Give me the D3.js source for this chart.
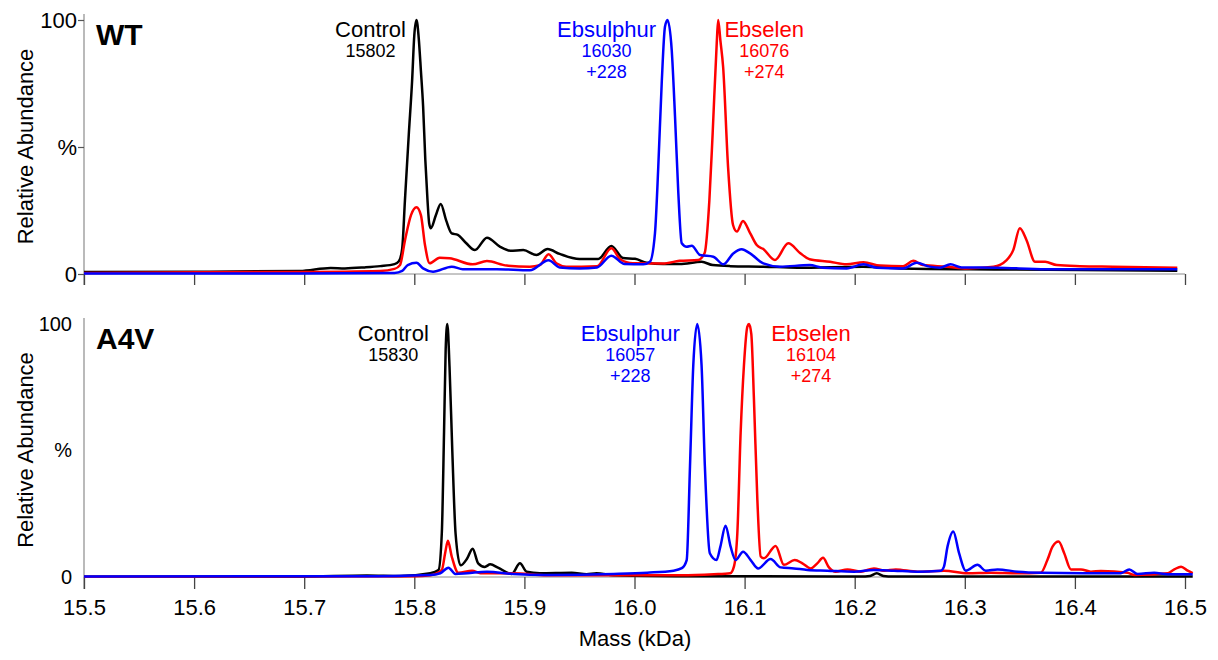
<!DOCTYPE html>
<html>
<head>
<meta charset="utf-8">
<script src="https://cdn.jsdelivr.net/npm/d3@7"></script>
<style>
  body { margin: 0; background: #fff; }
  svg { display: block; }
  text { font-family: Arial, "Liberation Sans", sans-serif; }
</style>
</head>
<body>
<svg id="chart" width="1218" height="660"></svg>
<script>
// ---- data: deconvoluted mass spectra, [mass (kDa), relative abundance (%)] ----
const massTicks = [15.5, 15.6, 15.7, 15.8, 15.9, 16.0, 16.1, 16.2, 16.3, 16.4, 16.5];
const pctTicks = [0, 50, 100];
const pctTickLabels = ["0", "%", "100"];
const panelNames = ["WT", "A4V"];
const seriesNames = ["Control", "Ebsulphur", "Ebselen"];
const wtPeakMasses = [15802, 16030, 16076];
const a4vPeakMasses = [15830, 16057, 16104];
const adductShifts = ["", "+228", "+274"];

const wtControl = [
  [15.500,0.8],[15.600,0.9],[15.696,1.2],[15.724,2.4],[15.737,2.2],[15.755,2.6],[15.769,3.1],
  [15.782,3.9],[15.786,5.0],[15.789,10],[15.7915,29],[15.795,55],[15.798,76],[15.800,94],
  [15.802,100],[15.804,93],[15.806,80],[15.808,66],[15.810,45],[15.812,29],[15.8135,20],
  [15.815,18],[15.8195,23],[15.824,27.6],[15.829,21],[15.834,16],[15.8395,15.4],[15.847,12.2],
  [15.855,9.4],[15.866,14.3],[15.878,10.7],[15.887,9.2],[15.899,9.4],[15.911,7.5],[15.921,9.8],
  [15.932,7.9],[15.950,5.9],[15.967,5.9],[15.979,11],[15.9895,6.3],[16.0005,6.0],[16.011,4.4],
  [16.026,3.9],[16.041,3.9],[16.061,4.8],[16.071,3.5],[16.087,3.1],[16.117,2.9],[16.148,2.5],
  [16.2075,2.9],[16.241,2.2],[16.332,1.8],[16.493,1.3]
];
const wtEbsulphur = [
  [15.500,0.2],[15.696,0.2],[15.782,0.4],[15.789,1.2],[15.794,3.5],[15.802,4.4],[15.808,2.2],
  [15.817,0.9],[15.834,2.9],[15.844,1.9],[15.875,1.9],[15.905,1.5],[15.922,5.4],[15.932,2.6],
  [15.950,2.2],[15.966,2.6],[15.979,7.2],[15.991,3.9],[16.008,3.8],[16.014,4.8],[16.0186,16.1],
  [16.0216,42.2],[16.0247,75],[16.0277,97.4],[16.030,100],[16.0338,88.2],[16.0368,62],
  [16.0398,31.9],[16.0429,12.1],[16.0474,10.7],[16.052,11.1],[16.0595,7.5],[16.0716,6.8],
  [16.0807,3.8],[16.0897,8.1],[16.0974,9.7],[16.105,8.1],[16.117,4.2],[16.132,2.9],[16.159,3.5],
  [16.171,2.5],[16.1927,2.2],[16.208,3.8],[16.220,2.5],[16.2439,2.2],[16.2563,4.4],[16.268,2.9],
  [16.2775,2.5],[16.287,3.8],[16.297,2.6],[16.329,2.5],[16.374,1.9],[16.493,1.9]
];
const wtEbselen = [
  [15.500,0.4],[15.605,0.7],[15.696,0.8],[15.769,1.2],[15.782,2.0],[15.787,3.5],[15.7916,13.4],
  [15.797,23.2],[15.802,26.3],[15.806,23.2],[15.8097,11.4],[15.814,4.2],[15.823,6.4],[15.832,6.2],
  [15.853,3.8],[15.866,5.1],[15.884,3.3],[15.905,2.9],[15.914,3.5],[15.922,7.8],[15.929,4.2],
  [15.938,2.9],[15.966,3.1],[15.979,10.1],[15.987,5.8],[15.9986,4.2],[16.026,4.1],[16.041,5.2],
  [16.0577,5.5],[16.0637,8.3],[16.068,29],[16.071,55.5],[16.0747,91],[16.076,100],[16.078,92],
  [16.0805,81.5],[16.085,42],[16.0895,19.3],[16.093,16.7],[16.0985,20.9],[16.105,16.1],
  [16.111,11.4],[16.117,9.8],[16.1276,5.5],[16.1397,12.1],[16.1503,8.3],[16.159,5.8],
  [16.1776,4.8],[16.1927,3.8],[16.208,4.6],[16.223,3.3],[16.244,3.1],[16.2532,5.2],[16.262,3.5],
  [16.2836,2.9],[16.3017,2.2],[16.326,2.9],[16.338,5.5],[16.344,9.4],[16.350,18],[16.356,13.4],
  [16.3638,4.8],[16.373,4.8],[16.3835,3.5],[16.4046,3.1],[16.4346,2.9],[16.493,2.5]
];

const a4vControl = [
  [15.500,0.1],[15.696,0.1],[15.757,0.6],[15.787,0.4],[15.8145,1.5],[15.822,2.8],[15.825,17.5],
  [15.827,57],[15.8285,90],[15.830,100],[15.832,83],[15.8345,50],[15.8375,17.1],[15.842,4.6],
  [15.848,7.3],[15.853,11.2],[15.858,5.4],[15.864,4.0],[15.869,5.0],[15.876,3.7],[15.8885,1.2],
  [15.896,5.4],[15.902,2.1],[15.914,1.5],[15.943,1.7],[15.9565,1.1],[15.9655,1.5],[15.981,0.7],
  [16.060,0.3],[16.205,0.2],[16.214,0.4],[16.220,1.5],[16.226,0.4],[16.235,0.2],[16.507,0.2]
];
const a4vEbsulphur = [
  [15.500,0.2],[15.750,0.3],[15.8145,0.8],[15.8236,1.5],[15.831,3.7],[15.8373,1.2],[15.848,1.5],
  [15.866,2.1],[15.890,1.2],[15.9205,0.8],[15.981,1.2],[16.0115,1.7],[16.0355,2.5],[16.043,3.5],
  [16.0474,6.7],[16.0504,43.8],[16.0534,83.8],[16.057,100],[16.0609,83.8],[16.0639,44],
  [16.0684,9.4],[16.0745,6.7],[16.078,12.0],[16.0827,20.3],[16.0873,12.0],[16.0918,6.7],
  [16.0986,10.0],[16.1055,6.7],[16.1123,3.4],[16.1236,7.1],[16.1327,3.8],[16.1448,3.4],
  [16.157,2.8],[16.175,2.5],[16.1994,2.1],[16.2175,2.8],[16.2357,2.5],[16.257,2.1],[16.2782,2.5],
  [16.281,4.0],[16.2843,12.0],[16.2895,18.0],[16.2948,9.4],[16.3009,2.5],[16.3115,4.8],
  [16.319,2.5],[16.3297,3.0],[16.348,2.1],[16.369,1.7],[16.4236,1.5],[16.4418,1.5],[16.4494,3.0],
  [16.457,1.2],[16.472,1.7],[16.484,1.1],[16.507,1.1]
];
const a4vEbselen = [
  [15.500,0.1],[15.800,0.3],[15.8145,0.7],[15.825,2.8],[15.828,9.4],[15.8305,14.3],[15.834,8.1],
  [15.840,1.7],[15.8525,2.5],[15.860,1.5],[15.890,1.5],[15.9205,0.7],[16.042,0.7],[16.072,1.1],
  [16.087,1.5],[16.0903,4.1],[16.0934,17.3],[16.0964,57],[16.0994,83.6],[16.1025,99],[16.104,100],
  [16.1061,96],[16.1085,70],[16.1116,30.4],[16.1146,8.1],[16.1175,7.4],[16.1282,12.3],
  [16.1357,4.8],[16.1455,6.7],[16.1525,5.4],[16.160,3.4],[16.166,5.4],[16.1712,7.6],[16.1766,3.8],
  [16.1827,2.1],[16.1934,3.0],[16.2055,2.1],[16.2175,3.4],[16.2266,2.5],[16.2373,3.0],[16.257,2.1],
  [16.2812,2.5],[16.3025,1.5],[16.3236,1.7],[16.348,1.5],[16.369,1.7],[16.375,6.7],[16.3797,12.0],
  [16.3852,14.0],[16.3903,9.4],[16.3964,3.0],[16.4055,3.0],[16.4145,2.1],[16.4236,2.4],
  [16.4479,1.7],[16.454,0.8],[16.4843,1.5],[16.4903,3.0],[16.4964,4.1],[16.5025,2.5],[16.507,1.5]
];

// ---- layout ----
const colors = ["#000000", "#0000ff", "#ff0000"];
const svg = d3.select("#chart");
const x = d3.scaleLinear().domain([15.5, 16.5]).range([84, 1185]);

const panels = [
  { name: panelNames[0], series: [wtControl, wtEbsulphur, wtEbselen], peaks: wtPeakMasses,
    y0: 274, y100: 20, yTickSize: 6, yTickPad: 1, yFont: 22, xTickSize: 11, showXLabels: false,
    labelDx: [-46, -61, 46], drawOrder: [0, 2, 1] },
  { name: panelNames[1], series: [a4vControl, a4vEbsulphur, a4vEbselen], peaks: a4vPeakMasses,
    y0: 577, y100: 324, yTickSize: 0, yTickPad: 12, yFont: 20, xTickSize: 12, showXLabels: true,
    labelDx: [-54, -67, 62], drawOrder: [0, 2, 1] }
];

panels.forEach(p => {
  const y = d3.scaleLinear().domain([0, 100]).range([p.y0, p.y100]);
  const g = svg.append("g");

  // axis lines
  g.append("line").attr("x1", 84).attr("x2", 84)
    .attr("y1", p.y100 - 6).attr("y2", p.y0 + p.xTickSize)
    .attr("stroke", "#8c8c8c").attr("stroke-width", 1.2);
  g.append("line").attr("x1", 84).attr("x2", x(16.5))
    .attr("y1", p.y0).attr("y2", p.y0)
    .attr("stroke", "#8c8c8c").attr("stroke-width", 1);

  // x axis ticks
  const xAxis = d3.axisBottom(x).tickValues(massTicks)
    .tickSize(p.xTickSize).tickPadding(10)
    .tickFormat(p.showXLabels ? d3.format(".1f") : () => "");
  const gx = g.append("g").attr("transform", `translate(0,${p.y0})`).call(xAxis);
  gx.select(".domain").remove();
  gx.selectAll(".tick line").attr("stroke", "#444").attr("stroke-width", 1.3);
  gx.selectAll(".tick text").attr("fill", "#000").style("font-size", "22px")
    .style("font-family", "Arial, 'Liberation Sans', sans-serif");

  // y axis ticks
  const yAxis = d3.axisLeft(y).tickValues(pctTicks)
    .tickSize(p.yTickSize).tickPadding(p.yTickPad)
    .tickFormat((d, i) => pctTickLabels[i]);
  const gy = g.append("g").attr("transform", "translate(84,0)").call(yAxis);
  gy.select(".domain").remove();
  gy.selectAll(".tick line").attr("stroke", "#555").attr("stroke-width", 1.2);
  gy.selectAll(".tick text").attr("fill", "#000").style("font-size", p.yFont + "px")
    .style("font-family", "Arial, 'Liberation Sans', sans-serif");

  // y axis title
  g.append("text")
    .attr("transform", `translate(33,${(p.y0 + p.y100) / 2 - 0.5}) rotate(-90)`)
    .attr("text-anchor", "middle")
    .style("font-size", "22px")
    .text("Relative Abundance");

  // panel name
  g.append("text").attr("x", 96).attr("y", p.y100 + 25)
    .style("font-size", "30px").style("font-weight", "bold")
    .text(p.name);

  // spectra
  const line = d3.line()
    .x(d => x(d[0])).y(d => y(d[1]))
    .curve(d3.curveMonotoneX);
  p.drawOrder.forEach(i => {
    g.append("path").datum(p.series[i])
      .attr("d", line)
      .attr("fill", "none")
      .attr("stroke", colors[i])
      .attr("stroke-width", 2.5)
      .attr("stroke-linejoin", "round");
  });

  // peak annotations
  p.peaks.forEach((m, i) => {
    const cx = x(m / 1000) + p.labelDx[i];
    const t = g.append("g").attr("fill", colors[i]).attr("text-anchor", "middle");
    t.append("text").attr("x", cx).attr("y", p.y100 + 16.5)
      .style("font-size", "22px").text(seriesNames[i]);
    t.append("text").attr("x", cx).attr("y", p.y100 + 37)
      .style("font-size", "18px").text(m);
    if (adductShifts[i]) {
      t.append("text").attr("x", cx).attr("y", p.y100 + 58.3)
        .style("font-size", "18px").text(adductShifts[i]);
    }
  });
});

// shared x axis title
svg.append("text").attr("x", 635).attr("y", 646)
  .attr("text-anchor", "middle").style("font-size", "22px")
  .text("Mass (kDa)");
</script>
</body>
</html>
